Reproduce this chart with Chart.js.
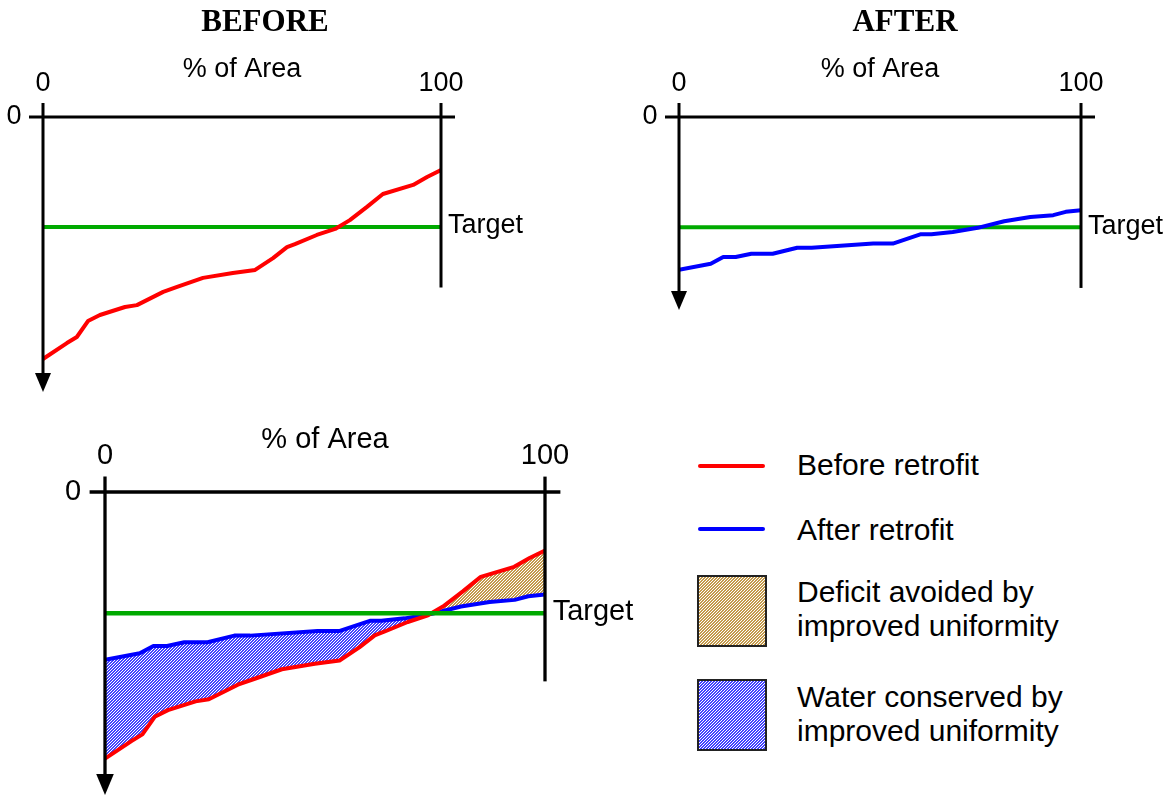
<!DOCTYPE html>
<html lang="en">
<head>
<meta charset="UTF-8">
<title>Before / After retrofit</title>
<style>
  * { box-sizing: border-box; margin: 0; padding: 0; }
  body {
    width: 1175px; height: 797px; background: #fff; position: relative; overflow: hidden;
    font-family: "Liberation Sans", Arial, sans-serif; color: #000;
  }
  .box { position: absolute; }
  .key-line { position: absolute; left: 698px; width: 67px; height: 4px; border-radius: 2px; }
  .key-text { position: absolute; left: 797px; font-size: 30px; line-height: 34px; white-space: nowrap; }
  .swatch { position: absolute; left: 697px; }
</style>
</head>
<body>

<div class="box" style="left:0;top:0;width:600px;height:400px"><canvas id="beforeChart"></canvas></div>
<div class="box" style="left:600px;top:0;width:575px;height:400px"><canvas id="afterChart"></canvas></div>
<div class="box" style="left:0;top:400px;width:660px;height:397px"><canvas id="bothChart"></canvas></div>

<div class="key-line" style="top:464px;background:#ff0000"></div>
<div class="key-text" style="top:448px">Before retrofit</div>
<div class="key-line" style="top:527px;background:#0000ff"></div>
<div class="key-text" style="top:513px">After retrofit</div>
<canvas class="swatch" id="swBrown" width="70" height="72" style="top:575px"></canvas>
<div class="key-text" style="top:575px">Deficit avoided by<br>improved uniformity</div>
<canvas class="swatch" id="swBlue" width="70" height="72" style="top:679px"></canvas>
<div class="key-text" style="top:680px">Water conserved by<br>improved uniformity</div>

<script src="https://cdn.jsdelivr.net/npm/chart.js"></script>
<script>
  // % of area (x) and depth below zero (y, grows downward)
  const beforeX     = [0, 6, 8.5, 11.3, 14.3, 20.6, 23.6, 30.2, 33.7, 40.2, 47.7, 53.3, 57.8, 61.3, 63.3, 68.8, 73.4, 77.1, 81.4, 85.4, 93, 96.5, 100];
  const beforeDepth = [88, 82.2, 80, 74.2, 72, 69.1, 68.4, 63.6, 61.8, 58.5, 56.7, 55.6, 51.3, 47.3, 46.2, 42.9, 40.7, 37.5, 32.7, 28, 24.7, 21.8, 19.3];
  const afterX      = [0, 7.9, 11, 14.1, 18, 23.3, 29.4, 33, 48.3, 53.2, 60.2, 62.8, 68.1, 74.3, 80.9, 87.4, 93.1, 96.2, 100];
  const afterDepth  = [55.4, 53.2, 50.8, 50.8, 49.6, 49.6, 47.4, 47.4, 45.9, 45.9, 42.5, 42.5, 41.7, 40.2, 37.8, 36.3, 35.6, 34.4, 33.8];
  const targetDepth = 40;
  const xTicks = [0, 100];
  const yTicks = [0];

  const RED = '#ff0000', BLUE = '#0000ff', GREEN = '#00aa00';
  const FONT = '"Liberation Sans", Arial, sans-serif';

  // fine dotted hatch, like the old print fills
  function makePattern(color) {
    const c = document.createElement('canvas');
    c.width = 3; c.height = 3;
    const g = c.getContext('2d');
    g.fillStyle = '#fff';
    g.fillRect(0, 0, 3, 3);
    g.fillStyle = color;
    for (let i = 0; i < 3; i++)
      for (let j = 0; j < 3; j++)
        if ((i + j) % 3 < 2) g.fillRect(i, j, 1, 1);
    return g.createPattern(c, 'repeat');
  }
  const brownFill = makePattern('#c49a4c');
  const blueFill  = makePattern('#4444ff');

  const pts = (xs, ys) => xs.map((x, i) => ({ x, y: ys[i] }));
  const targetPts = () => [{ x: 0, y: targetDepth }, { x: 100, y: targetDepth }];

  function line(ctx, a, b, c, d) {
    ctx.beginPath(); ctx.moveTo(a, b); ctx.lineTo(c, d); ctx.stroke();
  }

  // axes, arrow, tick labels and captions drawn off the chart scales
  const sketchAxes = {
    id: 'sketchAxes',
    afterDatasetsDraw(chart, args, o) {
      const { ctx, chartArea } = chart;
      const xs = chart.scales.x, ys = chart.scales.y;
      const k = o.k;
      const x0 = xs.getPixelForValue(xTicks[0]), x1 = xs.getPixelForValue(xTicks[1]);
      const y0 = ys.getPixelForValue(yTicks[0]);
      const yb = chartArea.bottom;
      ctx.save();
      ctx.strokeStyle = '#000';
      ctx.fillStyle = '#000';
      ctx.lineWidth = 3 * k;
      line(ctx, x0 - 14 * k, y0, x1 + 14 * k, y0);
      line(ctx, x0, y0 - 14 * k, x0, yb - 15 * k);
      line(ctx, x1, y0 - 14 * k, x1, ys.getPixelForValue(o.rightEnd));
      // arrow head
      ctx.beginPath();
      ctx.moveTo(x0 - 8 * k, yb - 19 * k);
      ctx.lineTo(x0 + 8 * k, yb - 19 * k);
      ctx.lineTo(x0, yb);
      ctx.closePath();
      ctx.fill();

      ctx.font = o.size + 'px ' + FONT;
      ctx.textBaseline = 'middle';
      ctx.textAlign = 'center';
      xTicks.forEach(v => ctx.fillText(String(v), xs.getPixelForValue(v), y0 - 33 * k));
      ctx.fillText('% of Area', (x0 + x1) / 2, y0 - 47 * k);
      yTicks.forEach(v => ctx.fillText(String(v), x0 - 29 * k, ys.getPixelForValue(v)));
      ctx.textAlign = 'left';
      ctx.fillText('Target', x1 + 7 * k, ys.getPixelForValue(targetDepth) - 1);
      if (o.title) {
        ctx.font = 'bold 31px "Liberation Serif", "Times New Roman", serif';
        ctx.textAlign = 'center';
        ctx.fillText(o.title, (x0 + x1) / 2 + o.titleDx, 23);
      }
      ctx.restore();
    }
  };

  function baseOptions(padding, yMax, axesOpts) {
    return {
      responsive: true,
      maintainAspectRatio: false,
      animation: false,
      layout: { padding },
      scales: {
        x: { type: 'linear', min: 0, max: 100, display: false },
        y: { type: 'linear', min: 0, max: yMax, reverse: true, display: false }
      },
      elements: { point: { radius: 0 }, line: { tension: 0, borderJoinStyle: 'round', borderCapStyle: 'round' } },
      plugins: {
        legend: { display: false },
        tooltip: { enabled: false },
        filler: { drawTime: 'beforeDatasetsDraw' },
        sketchAxes: axesOpts
      }
    };
  }

  new Chart(document.getElementById('beforeChart'), {
    type: 'line',
    data: {
      datasets: [
        { data: pts(beforeX, beforeDepth), borderColor: RED, borderWidth: 4, fill: false },
        { data: targetPts(), borderColor: GREEN, borderWidth: 4, fill: false }
      ]
    },
    options: baseOptions({ left: 43, top: 117, right: 159, bottom: 8 }, 100,
      { k: 1, size: 27, rightEnd: 62, title: 'BEFORE', titleDx: 23 }),
    plugins: [sketchAxes]
  });

  new Chart(document.getElementById('afterChart'), {
    type: 'line',
    data: {
      datasets: [
        { data: pts(afterX, afterDepth), borderColor: BLUE, borderWidth: 4, fill: false },
        { data: targetPts(), borderColor: GREEN, borderWidth: 4, fill: false }
      ]
    },
    options: baseOptions({ left: 79, top: 117, right: 94, bottom: 90 }, 70,
      { k: 1, size: 27, rightEnd: 62, title: 'AFTER', titleDx: 25 }),
    plugins: [sketchAxes]
  });

  new Chart(document.getElementById('bothChart'), {
    type: 'line',
    data: {
      datasets: [
        { data: targetPts(), borderColor: GREEN, borderWidth: 4.4, fill: false },
        { data: pts(beforeX, beforeDepth), borderColor: RED, borderWidth: 4,
          fill: { target: '+1', above: brownFill, below: blueFill } },
        { data: pts(afterX, afterDepth), borderColor: BLUE, borderWidth: 4, fill: false }
      ]
    },
    options: baseOptions({ left: 105, top: 92, right: 115, bottom: 2 }, 100,
      { k: 1.1, size: 29, rightEnd: 62.5 }),
    plugins: [sketchAxes]
  });

  // legend swatches use the same fills
  function swatch(id, pattern) {
    const g = document.getElementById(id).getContext('2d');
    g.fillStyle = pattern;
    g.fillRect(0, 0, 70, 72);
    g.strokeStyle = '#222';
    g.lineWidth = 2;
    g.strokeRect(1, 1, 68, 70);
  }
  swatch('swBrown', brownFill);
  swatch('swBlue', blueFill);
</script>
</body>
</html>
